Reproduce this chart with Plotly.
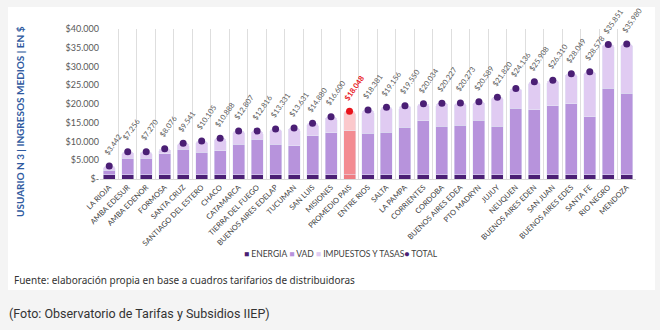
import plotly.graph_objects as go

categorias = ["LA RIOJA", "AMBA EDESUR", "AMBA EDENOR", "FORMOSA", "SANTA CRUZ",
              "SANTIAGO DEL ESTERO", "CHACO", "CATAMARCA", "TIERRA DEL FUEGO",
              "BUENOS AIRES EDELAP", "TUCUMAN", "SAN LUIS", "MISIONES", "PROMEDIO PAIS",
              "ENTRE RIOS", "SALTA", "LA PAMPA", "CORRIENTES", "CORDOBA",
              "BUENOS AIRES EDEA", "PTO MADRYN", "JUJUY", "NEUQUEN", "BUENOS AIRES EDEN",
              "SAN JUAN", "BUENOS AIRES EDES", "SANTA FE", "RIO NEGRO", "MENDOZA"]

energia = [1100, 1100, 1100, 1100, 1100, 1100, 1100, 1100, 1100, 1100, 1100, 1100, 1100, 1100,
           1100, 1100, 1100, 1100, 1100, 1100, 1100, 1100, 1100, 1100, 1100, 1100, 1100, 1100, 1100]

vad = [1200, 4400, 4400, 5570, 6800, 6000, 6370, 8230, 9480, 8230, 7790, 10450, 11250, 11800,
       11080, 11340, 12680, 14370, 13030, 13300, 14630, 13030, 17830, 17390, 18370, 18990,
       15520, 23080, 21830]

impuestos = [1142, 1756, 1770, 1406, 1641, 3005, 3418, 3477, 2236, 4001, 4741, 3330, 4250, 5148,
             6201, 6716, 5770, 4564, 6097, 5873, 4859, 7690, 5206, 7418, 6840, 7959, 11958,
             11671, 13050]

total = [3442, 7256, 7270, 8076, 9541, 10105, 10888, 12807, 12816, 13331, 13631, 14880, 16600,
         18048, 18381, 19156, 19550, 20034, 20227, 20273, 20589, 21820, 24136, 25908, 26310,
         28049, 28578, 35851, 35980]

y_tickvals = [0, 5000, 10000, 15000, 20000, 25000, 30000, 35000, 40000]
y_ticktext = ["$-", "$5.000", "$10.000", "$15.000", "$20.000", "$25.000", "$30.000", "$35.000", "$40.000"]

DESTACADO = "PROMEDIO PAIS"

C_EN, C_VAD, C_IMP, C_TOT = "#4b1f75", "#b793dc", "#e0cbf2", "#4b1f75"
R_EN, R_VAD, R_IMP, R_TOT = "#ee7c82", "#f38c92", "#fbc9cc", "#e8141b"


def pick(normal, red):
    return [red if c == DESTACADO else normal for c in categorias]


fig = go.Figure()
fig.add_bar(x=categorias, y=energia, name="ENERGIA", marker_color=pick(C_EN, R_EN))
fig.add_bar(x=categorias, y=vad, name="VAD", marker_color=pick(C_VAD, R_VAD))
fig.add_bar(x=categorias, y=impuestos, name="IMPUESTOS Y TASAS", marker_color=pick(C_IMP, R_IMP))
fig.add_scatter(x=categorias, y=total, name="TOTAL", mode="markers",
                marker=dict(size=7, color=pick(C_TOT, R_TOT)))

# total labels (rotated)
for c, v in zip(categorias, total):
    red = c == DESTACADO
    fig.add_annotation(x=c, y=v, xref="x", yref="y",
                       text=("<b>$%s</b>" if red else "$%s") % f"{v:,}".replace(",", "."),
                       textangle=-55, showarrow=False, xanchor="left", yanchor="bottom",
                       xshift=-8, yshift=8, borderpad=0,
                       font=dict(family="Lato", size=7.5, color=R_TOT if red else "#595959"))

# plot area: x 100..636 px, y 29..179 px
PL, PR, PT, PB = 100, 636, 29, 179
W, H = 660, 330


def px(x):
    return (x - PL) / (PR - PL)


def py(y):
    return (PB - y) / (PB - PT)


# white card
fig.add_shape(type="rect", xref="paper", yref="paper", layer="below",
              x0=px(8), x1=px(655), y0=py(290), y1=py(7),
              fillcolor="white", line_width=0)

# y axis title
fig.add_annotation(xref="paper", yref="paper", x=px(20), y=py(122),
                   xanchor="center", yanchor="middle",
                   text="<b>USUARIO N 3 | INGRESOS MEDIOS | EN $</b>", textangle=-90,
                   showarrow=False, font=dict(family="Lato", size=10, color="#2f5aa0"))

# legend
fig.add_annotation(xref="paper", yref="paper", x=px(341), y=py(254),
                   xanchor="center", yanchor="middle",
                   text=("<span style='color:%s'>■</span> ENERGIA "
                         "<span style='color:%s'>■</span> VAD "
                         "<span style='color:%s'>■</span> IMPUESTOS Y TASAS"
                         "<span style='color:%s'>●</span> TOTAL") % (C_EN, C_VAD, C_IMP, C_TOT),
                   showarrow=False, font=dict(family="Lato", size=8.5, color="#404040"))

# source
fig.add_annotation(xref="paper", yref="paper", x=px(12), y=py(280),
                   xanchor="left", yanchor="middle",
                   text="Fuente: elaboración propia en base a cuadros tarifarios de distribuidoras",
                   showarrow=False, font=dict(family="Noto Sans", size=10, color="#333333"))

# caption
fig.add_annotation(xref="paper", yref="paper", x=px(7), y=py(313),
                   xanchor="left", yanchor="middle",
                   text="(Foto: Observatorio de Tarifas y Subsidios IIEP)",
                   showarrow=False, font=dict(family="Roboto", size=12.5, color="#333333"))

fig.update_layout(
    width=W, height=H,
    margin=dict(l=PL, r=W - PR, t=PT, b=H - PB, autoexpand=False),
    barmode="stack", bargap=0.35, barcornerradius=3,
    paper_bgcolor="#f4f4f4", plot_bgcolor="rgba(0,0,0,0)",
    showlegend=False,
    font=dict(family="Lato", color="#404040"),
    xaxis=dict(tickson="boundaries", showgrid=True, gridcolor="#dedede", gridwidth=1,
               ticks="", tickangle=-45, tickfont=dict(family="Lato", size=7.5, color="#404040"),
               showline=True, linecolor="#d9d9d9", range=[-0.5, len(categorias) - 0.5]),
    yaxis=dict(range=[0, 40000], tickvals=y_tickvals, ticktext=y_ticktext,
               showgrid=False, zeroline=False, ticks="",
               tickfont=dict(family="Lato", size=9, color="#595959")),
)

fig.write_html("out.html")
